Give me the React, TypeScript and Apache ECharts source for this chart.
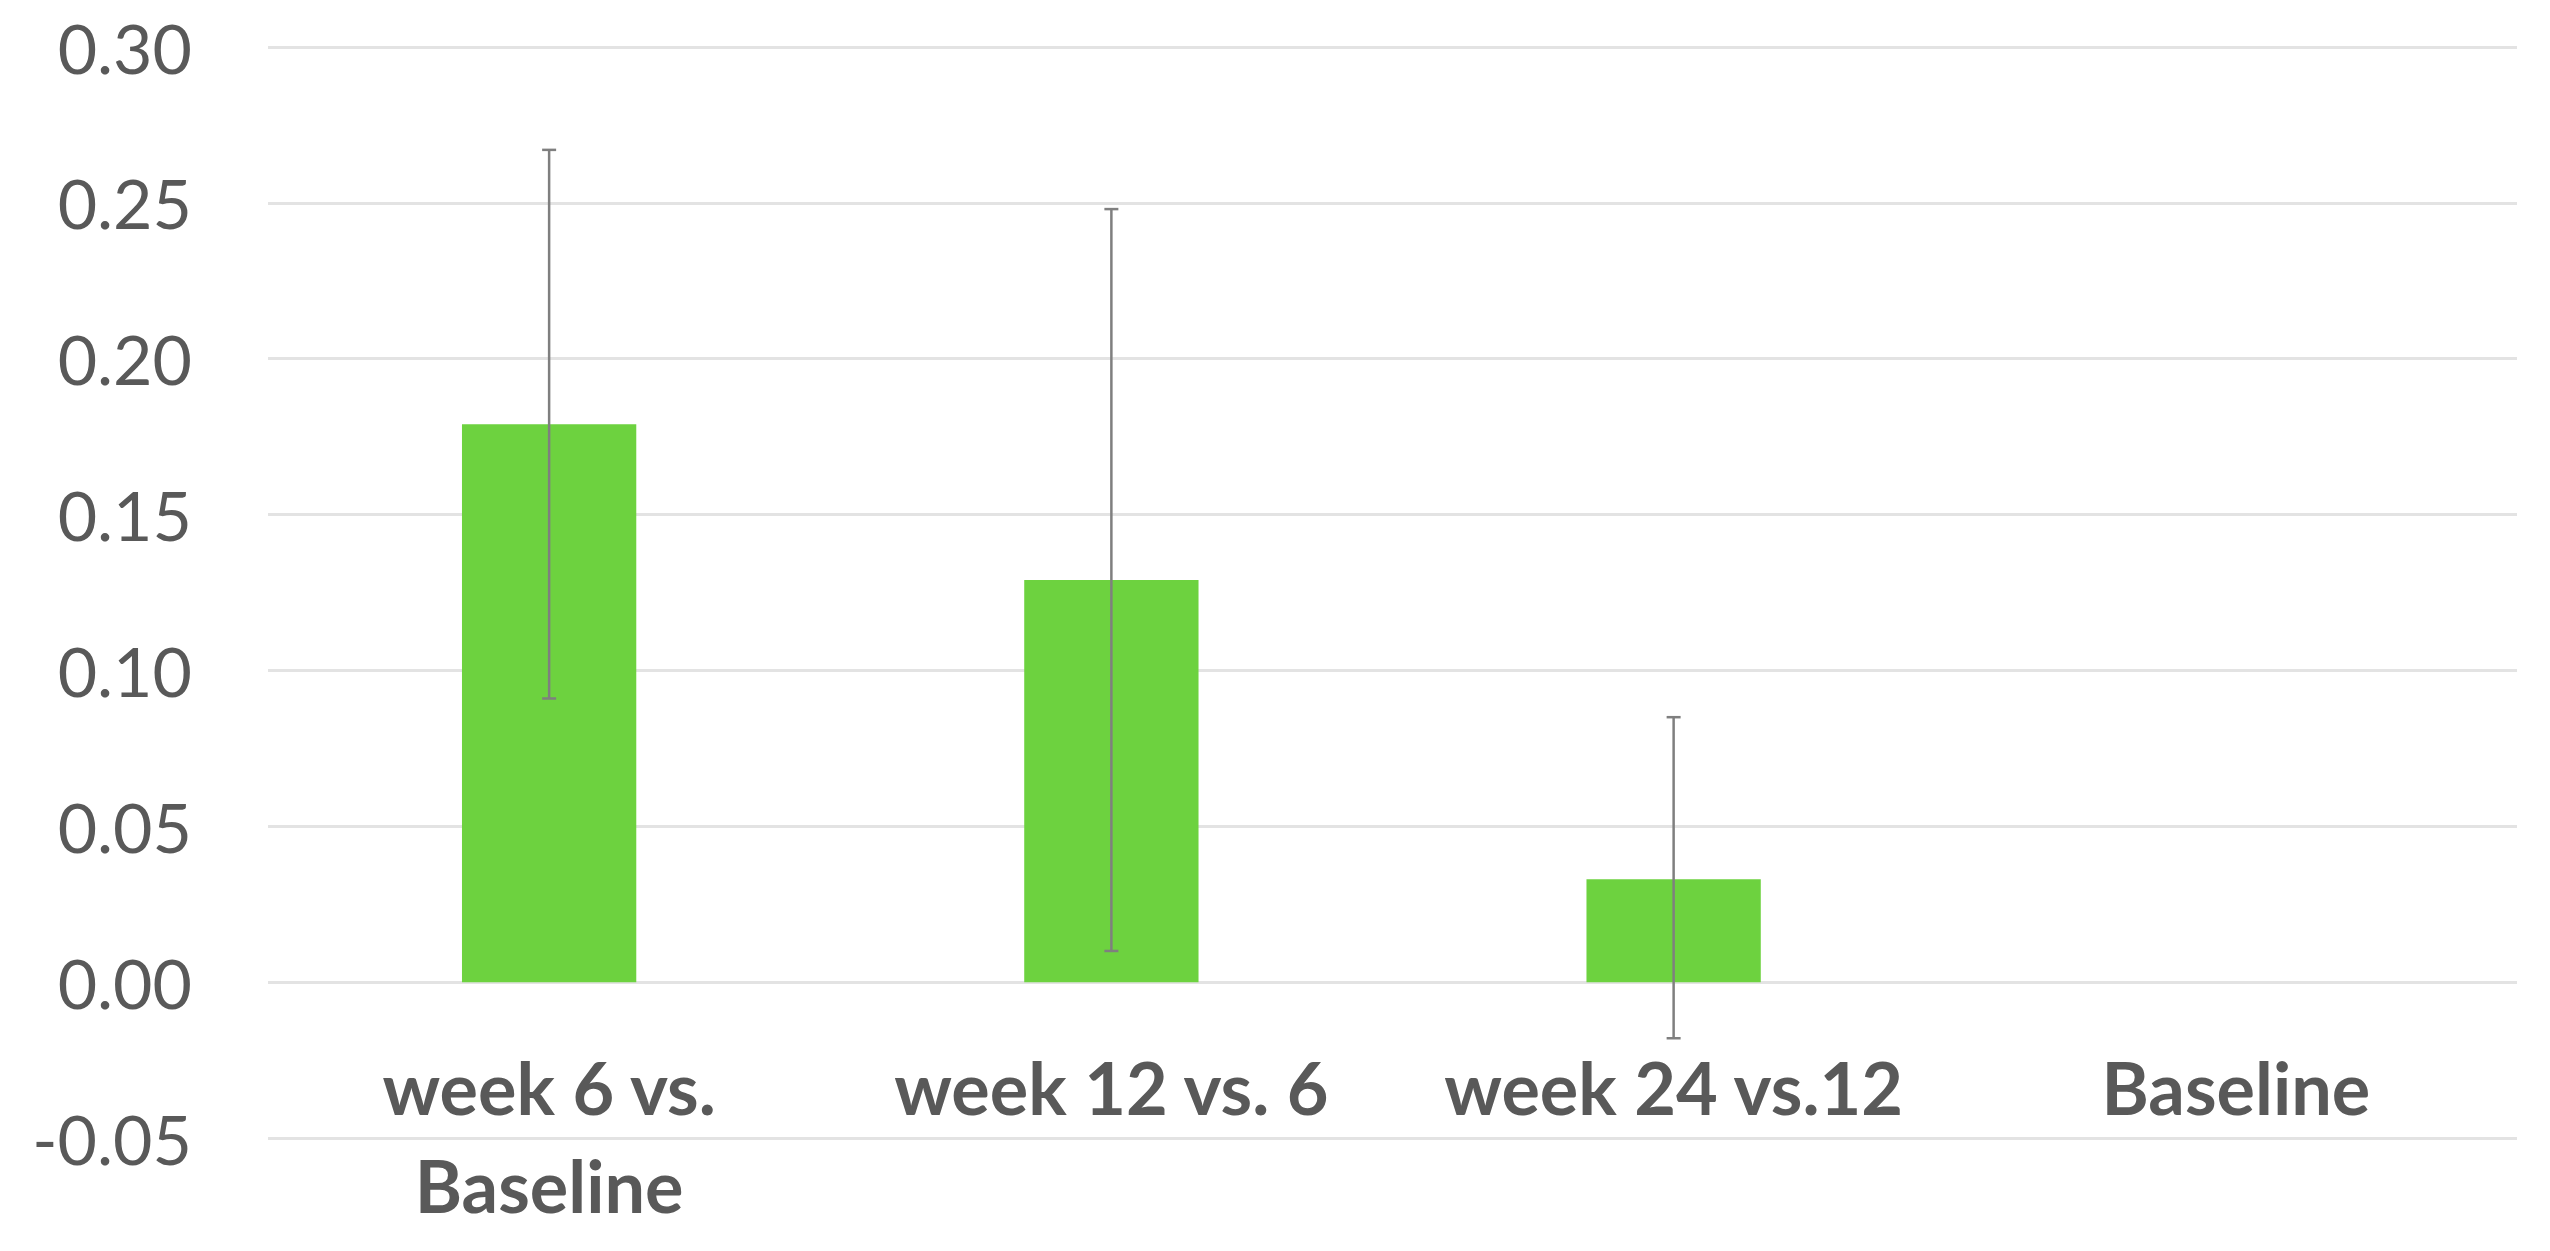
import React, { useEffect, useRef } from "react";
import * as echarts from "echarts";

const categories = ["week 6 vs.\nBaseline", "week 12 vs. 6", "week 24 vs.12", "Baseline"];
const meanValues: (number | null)[] = [0.179, 0.129, 0.033, null];
const errorLow: (number | null)[] = [0.091, 0.01, -0.018, null];
const errorHigh: (number | null)[] = [0.267, 0.248, 0.085, null];
const yMin = -0.05;
const yMax = 0.3;
const yStep = 0.05;

export default function App() {
  const ref = useRef<HTMLDivElement>(null);

  useEffect(() => {
    if (!ref.current) return;
    const chart = echarts.init(ref.current, null, { renderer: "svg" });

    const errData = categories
      .map((_, i) => (errorLow[i] == null || errorHigh[i] == null ? null : [i, errorLow[i], errorHigh[i]]))
      .filter((d) => d !== null);

    const capHalf = 7;
    const gridTop = 47;
    const gridBottom = 113;
    const plotH = 1251 - gridTop - gridBottom;
    // distance from the bottom of the plot (yMin) up to the zero line
    const zeroOffset = (plotH * (0 - yMin)) / (yMax - yMin);

    chart.setOption({
      animation: false,
      backgroundColor: "#ffffff",
      grid: { left: 268, right: 33, top: gridTop, bottom: gridBottom, containLabel: false, outerBoundsMode: "none" },
      xAxis: {
        type: "category",
        data: categories,
        offset: -zeroOffset,
        axisLine: { show: false, onZero: false },
        axisTick: { show: false },
        axisLabel: {
          color: "#595959",
          fontFamily: "Lato",
          fontWeight: "bold",
          fontSize: 72,
          lineHeight: 98,
          margin: 56,
          interval: 0,
        },
        splitLine: { show: false },
      },
      yAxis: {
        type: "value",
        min: yMin,
        max: yMax,
        interval: yStep,
        axisLine: { show: false },
        axisTick: { show: false },
        axisLabel: {
          color: "#595959",
          fontFamily: "Lato",
          fontSize: 68,
          margin: 76,
          formatter: (v: number) => (v < 0 ? "-" + Math.abs(v).toFixed(2) : v.toFixed(2)),
        },
        splitLine: { show: true, lineStyle: { color: "#e3e3e3", width: 3 } },
      },
      series: [
        {
          type: "bar",
          data: meanValues,
          barWidth: "31%",
          itemStyle: { color: "#6dd23f" },
          z: 2,
        },
        {
          type: "custom",
          data: errData,
          encode: { x: 0, y: [1, 2] },
          z: 5,
          renderItem: (params: any, api: any) => {
            const lo = api.coord([api.value(0), api.value(1)]);
            const hi = api.coord([api.value(0), api.value(2)]);
            const style = { stroke: "#7f7f7f", lineWidth: 2.5 };
            return {
              type: "group",
              children: [
                { type: "line", shape: { x1: hi[0], y1: hi[1], x2: lo[0], y2: lo[1] }, style },
                { type: "line", shape: { x1: hi[0] - capHalf, y1: hi[1], x2: hi[0] + capHalf, y2: hi[1] }, style },
                { type: "line", shape: { x1: lo[0] - capHalf, y1: lo[1], x2: lo[0] + capHalf, y2: lo[1] }, style },
              ],
            };
          },
        },
      ],
    });

    return () => chart.dispose();
  }, []);

  return (
    <div
      ref={ref}
      style={{ position: "fixed", left: 0, top: 0, width: "2550px", height: "1251px", background: "#fff" }}
    />
  );
}
